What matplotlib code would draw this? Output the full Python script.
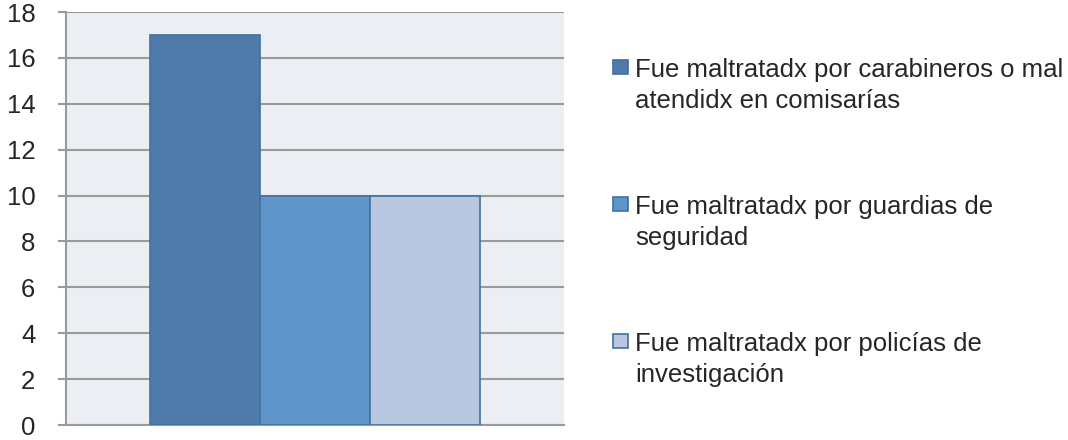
import matplotlib
matplotlib.use("Agg")
import matplotlib.pyplot as plt
from matplotlib.patches import Rectangle

series_labels = [
    "Fue maltratadx por carabineros o mal\natendidx en comisarías",
    "Fue maltratadx por guardias de\nseguridad",
    "Fue maltratadx por policías de\ninvestigación",
]
values = [17, 10, 10]
y_ticks = [0, 2, 4, 6, 8, 10, 12, 14, 16, 18]

colors = ["#4F7BAB", "#5F95C8", "#B8C6E0"]
edge = "#41719C"
grid_c = "#9A9A9A"
font = "Liberation Sans"
fs = 18.5
txt_c = "#262626"

W, H = 1068, 440
fig = plt.figure(figsize=(W / 100, H / 100), dpi=100)
ax = fig.add_axes([66 / W, 1 - 425 / H, (564 - 66) / W, (425 - 12) / H])
ax.set_facecolor("#EBEEF3")

bw = 110 / 498
n = len(values)
for i, (v, c) in enumerate(zip(values, colors)):
    ax.bar((i - (n - 1) / 2) * bw, v, width=bw, color=c, edgecolor=edge, linewidth=1.2, zorder=3)

ax.set_xlim(-0.5, 0.5)
ax.set_ylim(0, 18)
ax.set_yticks(y_ticks)
ax.set_xticks([])
ax.grid(axis="y", color=grid_c, linewidth=1.5, zorder=1)
for s in ["top", "right"]:
    ax.spines[s].set_visible(False)
for s in ["left", "bottom"]:
    ax.spines[s].set_color(grid_c)
    ax.spines[s].set_linewidth(1.5)
ax.tick_params(axis="y", length=6, width=1.5, color=grid_c, pad=16, labelsize=fs, labelcolor=txt_c)
for lab in ax.get_yticklabels():
    lab.set_fontfamily(font)

# legend drawn manually
entry_base = [77, 214, 351]
line_gap = 31
for i, (lab, c) in enumerate(zip(series_labels, colors)):
    y0 = entry_base[i]
    fig.patches.append(Rectangle((613 / W, 1 - (y0 - 3) / H), 15 / W, 14 / H,
                                 transform=fig.transFigure, facecolor=c, edgecolor=edge, linewidth=1.2))
    for j, line in enumerate(lab.split("\n")):
        fig.text(635 / W, 1 - (y0 + j * line_gap) / H, line, fontsize=fs, family=font,
                 color=txt_c, va="baseline", ha="left")

fig.savefig("out.png", dpi=100)
